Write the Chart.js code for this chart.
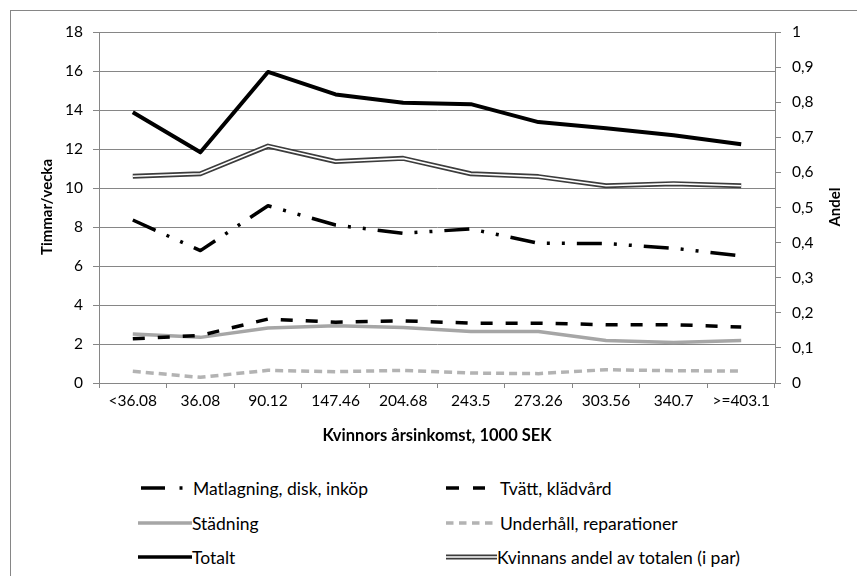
<!DOCTYPE html>
<html>
<head>
<meta charset="utf-8">
<script src="https://cdn.jsdelivr.net/npm/chart.js@4.4.0/dist/chart.umd.min.js"></script>
<style>
    body { margin: 0; background: #fff; width: 857px; height: 576px; overflow: hidden; position: relative; font-family: Lato, sans-serif; }
    #frame { position: absolute; left: 10px; top: 10px; width: 900px; height: 600px; border-left: 1px solid #868686; border-top: 1px solid #868686; }
    #wrap { position: absolute; left: 0; top: 0; width: 857px; height: 460px; }
    .sample { position: absolute; }
    .legtext { position: absolute; font-size: 17.5px; color: #000; white-space: nowrap; line-height: 24px; height: 24px; }
</style>
</head>
<body>
<div id="frame"></div>
<div id="wrap"><canvas id="chart" width="857" height="460"></canvas></div>
<div id="legend"></div>
<script>
// Data
const categories = ['<36.08', '36.08', '90.12', '147.46', '204.68', '243.5', '273.26', '303.56', '340.7', '>=403.1'];
const matlagning = [8.36, 6.79, 9.09, 8.10, 7.68, 7.90, 7.17, 7.15, 6.91, 6.52];
const tvatt = [2.27, 2.44, 3.28, 3.12, 3.19, 3.07, 3.07, 2.99, 2.99, 2.87];
const stadning = [2.51, 2.34, 2.82, 2.93, 2.85, 2.64, 2.64, 2.18, 2.08, 2.18];
const underhall = [0.60, 0.29, 0.65, 0.58, 0.65, 0.51, 0.48, 0.68, 0.63, 0.61];
const totalt = [13.88, 11.83, 15.95, 14.80, 14.37, 14.30, 13.38, 13.06, 12.71, 12.24];
const andel = [0.589, 0.596, 0.675, 0.631, 0.640, 0.596, 0.588, 0.562, 0.568, 0.562];

const seriesNames = ['Matlagning, disk, inköp', 'Tvätt, klädvård', 'Städning', 'Underhåll, reparationer', 'Totalt', 'Kvinnans andel av totalen (i par)'];

const gridColor = '#868686';
const font = 'Lato';

// Axis titles drawn by hand so "Andel" reads bottom-to-top like the original
const axisTitles = {
    id: 'axisTitles',
    afterDraw(chart) {
        const ctx = chart.ctx;
        ctx.save();
        ctx.fillStyle = '#000';
        ctx.textAlign = 'center';
        ctx.textBaseline = 'middle';
        ctx.font = 'bold 16.5px ' + font;
        ctx.fillText('Kvinnors årsinkomst, 1000 SEK', (chart.chartArea.left + chart.chartArea.right) / 2, 436);
        ctx.font = 'bold 15px ' + font;
        ctx.translate(47, 207);
        ctx.rotate(-Math.PI / 2);
        ctx.fillText('Timmar/vecka', 0, 0);
        ctx.restore();

        ctx.save();
        ctx.fillStyle = '#000';
        ctx.font = 'bold 15px ' + font;
        ctx.textAlign = 'center';
        ctx.textBaseline = 'middle';
        ctx.translate(835, 207);
        ctx.rotate(-Math.PI / 2);
        ctx.fillText('Andel', 0, 0);
        ctx.restore();
    }
};

function lineSet(label, data, color, width, dash, axis, order) {
    return {
        label,
        data,
        borderColor: color,
        backgroundColor: color,
        borderWidth: width,
        borderDash: dash,
        borderCapStyle: 'butt',
        borderJoinStyle: 'round',
        pointRadius: 0,
        tension: 0,
        fill: false,
        yAxisID: axis,
        order
    };
}

const tickFont = { family: font, size: 15.5 };

const ctx = document.getElementById('chart').getContext('2d');
const chart = new Chart(ctx, {
    type: 'line',
    data: {
        labels: categories,
        datasets: [
            lineSet(seriesNames[0], matlagning, '#000', 3.5, [25, 12, 3, 12, 3, 12], 'y', 1),
            lineSet(seriesNames[1], tvatt, '#000', 3.5, [12, 13], 'y', 2),
            lineSet(seriesNames[2], stadning, '#a6a6a6', 3.5, [], 'y', 3),
            lineSet(seriesNames[3], underhall, '#b3b3b3', 3.5, [8, 5], 'y', 4),
            lineSet(seriesNames[4], totalt, '#000', 4, [], 'y', 0),
            lineSet(seriesNames[5], andel, '#3c3c3c', 5, [], 'y1', 6),
            // inner white stroke of the double line
            lineSet('', andel, '#fff', 1.6, [], 'y1', 5)
        ]
    },
    plugins: [axisTitles],
    options: {
        responsive: false,
        animation: false,
        layout: { padding: { top: 32, left: 0, right: 0, bottom: 0 } },
        plugins: {
            legend: { display: false },
            tooltip: { enabled: false }
        },
        scales: {
            x: {
                offset: true,
                grid: { offset: true, drawOnChartArea: false, color: gridColor, tickLength: 5 },
                border: { color: gridColor },
                ticks: { color: '#000', font: tickFont, padding: 4, maxRotation: 0, autoSkip: false },
                afterFit(scale) { scale.height = 77; }
            },
            y: {
                position: 'left',
                min: 0,
                max: 18,
                ticks: { stepSize: 2, color: '#000', font: tickFont, padding: 10 },
                grid: { color: gridColor, tickLength: 6 },
                border: { color: gridColor },
                afterFit(scale) { scale.width = 99; }
            },
            y1: {
                position: 'right',
                min: 0,
                max: 1,
                ticks: {
                    stepSize: 0.1,
                    color: '#000',
                    font: tickFont,
                    padding: 11,
                    callback: v => String(Math.round(v * 10) / 10).replace('.', ',')
                },
                grid: { drawOnChartArea: false, color: gridColor, tickLength: 6 },
                border: { color: gridColor },
                afterFit(scale) { scale.width = 82; }
            }
        }
    }
});

// Legend in two columns, like the original
const legendItems = [
    { name: seriesNames[0], x: 138, y: 488, textX: 193, svg: '<line x1="3" y1="12" x2="27" y2="12" stroke="#000" stroke-width="3.5"/><line x1="41.5" y1="12" x2="44.5" y2="12" stroke="#000" stroke-width="3.5"/>' },
    { name: seriesNames[1], x: 446, y: 488, textX: 500, svg: '<line x1="0" y1="12" x2="13" y2="12" stroke="#000" stroke-width="3.5"/><line x1="27" y1="12" x2="39" y2="12" stroke="#000" stroke-width="3.5"/>' },
    { name: seriesNames[2], x: 138, y: 522.5, textX: 192, svg: '<line x1="0" y1="12" x2="54" y2="12" stroke="#a6a6a6" stroke-width="3.5"/>' },
    { name: seriesNames[3], x: 446, y: 522.5, textX: 500, svg: '<line x1="0" y1="12" x2="51" y2="12" stroke="#b3b3b3" stroke-width="3.5" stroke-dasharray="7.5,5.5"/>' },
    { name: seriesNames[4], x: 138, y: 557, textX: 192, svg: '<line x1="0" y1="12" x2="54" y2="12" stroke="#000" stroke-width="3.5"/>' },
    { name: seriesNames[5], x: 446, y: 557, textX: 497, svg: '<line x1="0" y1="12" x2="51" y2="12" stroke="#3c3c3c" stroke-width="5"/><line x1="0" y1="12" x2="51" y2="12" stroke="#fff" stroke-width="1.6"/>' }
];

const legend = document.getElementById('legend');
legendItems.forEach(item => {
    const sample = document.createElementNS('http://www.w3.org/2000/svg', 'svg');
    sample.setAttribute('class', 'sample');
    sample.setAttribute('width', '56');
    sample.setAttribute('height', '24');
    sample.style.left = item.x + 'px';
    sample.style.top = (item.y - 12) + 'px';
    sample.innerHTML = item.svg;
    legend.appendChild(sample);

    const text = document.createElement('div');
    text.className = 'legtext';
    text.style.left = item.textX + 'px';
    text.style.top = (item.y - 11) + 'px';
    text.textContent = item.name;
    legend.appendChild(text);
});
</script>
</body>
</html>
